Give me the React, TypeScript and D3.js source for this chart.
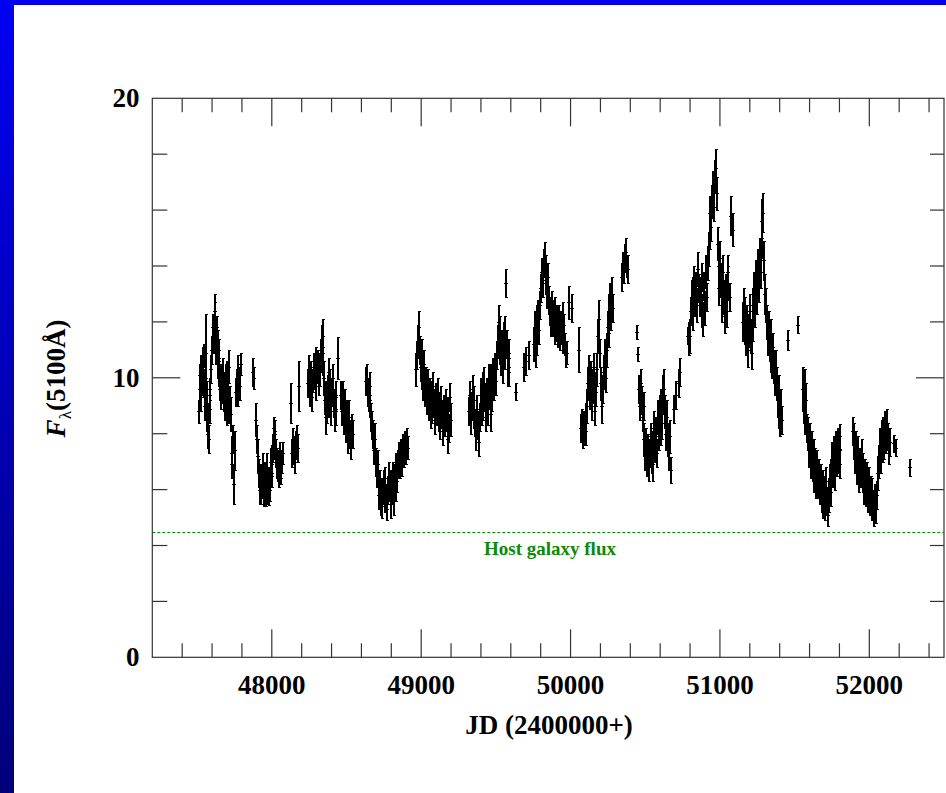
import React, { useEffect } from 'react';
import * as d3 from 'd3';

type Obs = [number, number, number]; // [JD-2400000, flux, error]

const X_DOMAIN: [number, number] = [47200, 52500];
const Y_DOMAIN: [number, number] = [0, 20];
const X_MAJOR = [48000, 49000, 50000, 51000, 52000];
const X_MINOR_STEP = 200;
const Y_MAJOR = [0, 10, 20];
const Y_MINOR_STEP = 2;
const HOST_FLUX = 4.5;
const HOST_LABEL = 'Host galaxy flux';
const X_TITLE = 'JD (2400000+)';

const season1: Obs[] = [
  [47506, 8.8, 0.4], [47510, 9.6, 0.5], [47514, 10.1, 0.4], [47518, 9.3, 0.5], [47522, 10.4, 0.4],
  [47526, 9.9, 0.5], [47530, 10.6, 0.5], [47534, 10.2, 0.4], [47538, 10.8, 0.4], [47542, 9.8, 0.5],
  [47546, 9.0, 0.5], [47550, 9.6, 0.4], [47553, 10.9, 1.4], [47557, 9.4, 0.5], [47561, 8.6, 0.5],
  [47565, 8.0, 0.5], [47569, 8.5, 0.6], [47573, 7.8, 0.5], [47577, 8.9, 0.5], [47581, 9.6, 0.4],
  [47587, 10.3, 0.5], [47592, 11.0, 0.5], [47597, 11.4, 0.4], [47602, 11.8, 0.5], [47607, 11.3, 0.4],
  [47611, 12.2, 0.5], [47615, 12.4, 0.6], [47619, 11.7, 0.4], [47623, 11.0, 0.5], [47627, 11.8, 0.4],
  [47631, 11.2, 0.5], [47635, 10.5, 0.5], [47639, 11.0, 0.4], [47643, 10.2, 0.5], [47648, 9.6, 0.4],
  [47652, 10.0, 0.5], [47656, 9.3, 0.4], [47660, 9.8, 0.5], [47664, 9.5, 0.4], [47668, 10.2, 0.5],
  [47672, 9.2, 0.4], [47676, 9.7, 0.5], [47680, 9.0, 0.5], [47684, 9.9, 0.6], [47688, 9.4, 0.5],
  [47692, 8.8, 0.5], [47696, 10.1, 0.5], [47700, 9.5, 0.4], [47705, 9.0, 0.6], [47710, 10.4, 0.6],
  [47715, 9.2, 0.5], [47720, 8.7, 0.6], [47725, 7.3, 0.6], [47730, 6.9, 0.5], [47735, 7.8, 0.5],
  [47740, 6.2, 0.7], [47745, 7.4, 0.7], [47752, 9.5, 0.5], [47758, 9.8, 0.5], [47764, 10.3, 0.5],
  [47770, 9.4, 0.4], [47776, 10.0, 0.4], [47782, 9.7, 0.5], [47790, 10.5, 0.4], [47867, 10.2, 0.5],
  [47874, 10.0, 0.4],
];

const season2: Obs[] = [
  [47890, 8.5, 0.6], [47896, 7.8, 0.5], [47902, 7.2, 0.6], [47908, 6.6, 0.5], [47913, 6.0, 0.5],
  [47917, 6.5, 0.4], [47921, 5.9, 0.4], [47925, 6.4, 0.5], [47929, 6.1, 0.4], [47933, 6.8, 0.5],
  [47937, 6.2, 0.4], [47941, 5.8, 0.4], [47945, 6.5, 0.5], [47949, 6.0, 0.4], [47953, 5.7, 0.3],
  [47957, 6.3, 0.4], [47961, 6.8, 0.5], [47965, 6.1, 0.4], [47969, 5.9, 0.4], [47973, 5.8, 0.35],
  [47977, 6.4, 0.4], [47981, 6.0, 0.4], [47985, 6.6, 0.5], [47989, 7.0, 0.5], [47993, 6.5, 0.4],
  [47997, 7.1, 0.5], [48001, 7.5, 0.5], [48005, 7.9, 0.5], [48009, 8.2, 0.4], [48013, 7.6, 0.5],
  [48017, 8.0, 0.5], [48021, 7.3, 0.5], [48025, 6.9, 0.5], [48029, 7.1, 0.4], [48033, 6.7, 0.4],
  [48037, 6.9, 0.5], [48042, 6.5, 0.4], [48047, 7.2, 0.5], [48052, 6.8, 0.4], [48058, 6.6, 0.4],
  [48064, 7.0, 0.4], [48070, 7.3, 0.4], [48121, 9.1, 0.7], [48130, 7.3, 0.5], [48136, 7.8, 0.4],
  [48142, 7.4, 0.5], [48148, 7.0, 0.4], [48154, 7.6, 0.5], [48160, 7.9, 0.4], [48166, 7.5, 0.5],
];

const season3: Obs[] = [
  [48175, 9.7, 0.9], [48238, 9.8, 0.5], [48244, 10.3, 0.5], [48250, 9.6, 0.6], [48256, 10.1, 0.5],
  [48262, 9.3, 0.5], [48268, 9.9, 0.4], [48274, 10.4, 0.5], [48280, 10.0, 0.4], [48286, 10.6, 0.5],
  [48292, 9.7, 0.5], [48298, 10.2, 0.4], [48304, 10.5, 0.5], [48310, 9.9, 0.5], [48316, 10.3, 0.6],
  [48322, 10.8, 0.6], [48328, 11.3, 0.6], [48333, 11.5, 0.6], [48338, 10.6, 0.5], [48343, 10.0, 0.6],
  [48348, 9.2, 0.5], [48353, 8.6, 0.6], [48358, 9.4, 0.5], [48363, 8.9, 0.5], [48369, 9.6, 0.5],
  [48374, 10.2, 0.5], [48379, 9.2, 0.6], [48384, 9.8, 0.5], [48390, 8.8, 0.5], [48396, 9.5, 0.5],
  [48402, 10.0, 0.5], [48408, 9.1, 0.5], [48414, 8.6, 0.5], [48420, 9.4, 0.5], [48426, 8.8, 0.5],
  [48436, 10.7, 0.75], [48455, 9.4, 0.5], [48462, 8.8, 0.5], [48469, 9.3, 0.6], [48476, 8.5, 0.5],
  [48483, 9.0, 0.6], [48490, 8.2, 0.5], [48497, 8.7, 0.5], [48504, 7.8, 0.5], [48511, 8.6, 0.6],
  [48518, 8.0, 0.5], [48525, 7.6, 0.5], [48532, 8.3, 0.4], [48540, 8.0, 0.5],
];

const season4: Obs[] = [
  [48624, 9.9, 0.5], [48630, 10.0, 0.5], [48636, 9.5, 0.5], [48642, 9.2, 0.4], [48648, 9.7, 0.5],
  [48654, 9.0, 0.4], [48660, 8.6, 0.5], [48666, 8.3, 0.5], [48672, 8.0, 0.5], [48678, 7.4, 0.5],
  [48684, 7.8, 0.6], [48690, 7.0, 0.5], [48696, 6.6, 0.5], [48702, 6.9, 0.5], [48708, 6.2, 0.5],
  [48713, 5.8, 0.5], [48718, 6.3, 0.4], [48723, 5.6, 0.5], [48728, 6.0, 0.4], [48733, 5.4, 0.4],
  [48738, 5.9, 0.4], [48743, 6.2, 0.5], [48748, 5.7, 0.5], [48753, 6.4, 0.4], [48758, 5.8, 0.4],
  [48763, 5.3, 0.4], [48768, 6.1, 0.4], [48773, 5.9, 0.4], [48778, 6.5, 0.5], [48783, 6.0, 0.4],
  [48788, 5.5, 0.5], [48793, 6.3, 0.4], [48798, 5.9, 0.4], [48803, 6.6, 0.4], [48808, 6.1, 0.5],
  [48813, 5.6, 0.5], [48818, 6.4, 0.5], [48823, 6.0, 0.4], [48828, 6.8, 0.5], [48833, 6.3, 0.4],
  [48838, 6.9, 0.5], [48843, 7.2, 0.5], [48850, 6.8, 0.4], [48857, 7.4, 0.4], [48864, 7.0, 0.5],
  [48871, 7.6, 0.4], [48878, 7.3, 0.5], [48885, 7.7, 0.4], [48892, 7.4, 0.5], [48899, 7.8, 0.4],
  [48906, 7.5, 0.4],
];

const season5: Obs[] = [
  [48960, 10.3, 0.6], [48966, 10.8, 0.5], [48972, 11.3, 0.6], [48978, 11.8, 0.6], [48984, 11.0, 0.5],
  [48990, 10.4, 0.5], [48996, 10.9, 0.5], [49002, 10.1, 0.5], [49008, 9.7, 0.5], [49014, 10.5, 0.5],
  [49020, 9.5, 0.5], [49026, 10.0, 0.4], [49032, 9.2, 0.5], [49038, 9.8, 0.5], [49044, 9.0, 0.5],
  [49050, 9.6, 0.4], [49056, 8.7, 0.5], [49062, 9.4, 0.5], [49068, 8.9, 0.5], [49074, 9.7, 0.5],
  [49080, 9.1, 0.5], [49086, 8.5, 0.5], [49092, 9.3, 0.5], [49098, 8.8, 0.5], [49104, 9.5, 0.5],
  [49110, 8.6, 0.5], [49116, 9.0, 0.5], [49122, 8.3, 0.5], [49128, 9.2, 0.5], [49134, 8.7, 0.5],
  [49140, 8.1, 0.5], [49146, 8.9, 0.5], [49152, 8.4, 0.5], [49158, 9.1, 0.5], [49164, 8.6, 0.5],
  [49170, 7.8, 0.5], [49176, 8.8, 0.5], [49182, 8.2, 0.5], [49188, 9.3, 0.5], [49194, 8.5, 0.6],
];

const season6: Obs[] = [
  [49314, 8.8, 0.5], [49320, 9.4, 0.5], [49326, 8.5, 0.5], [49332, 9.0, 0.5], [49338, 9.6, 0.5],
  [49344, 8.7, 0.5], [49350, 9.2, 0.5], [49356, 8.4, 0.5], [49362, 8.0, 0.6], [49368, 8.9, 0.5],
  [49374, 8.3, 0.5], [49380, 7.7, 0.5], [49386, 8.6, 0.5], [49392, 9.4, 0.6], [49398, 8.8, 0.5],
  [49404, 9.6, 0.6], [49410, 9.0, 0.5], [49416, 9.8, 0.6], [49422, 9.3, 0.5], [49428, 8.6, 0.5],
  [49434, 9.5, 0.5], [49440, 8.9, 0.6], [49446, 10.0, 0.5], [49452, 9.4, 0.5], [49458, 8.7, 0.6],
  [49464, 9.9, 0.6], [49470, 9.3, 0.5], [49476, 10.2, 0.5], [49482, 9.7, 0.5], [49488, 10.4, 0.5],
  [49494, 9.9, 0.5], [49500, 10.8, 0.5], [49506, 11.3, 0.6], [49512, 12.0, 0.6], [49518, 11.0, 0.5],
  [49524, 11.6, 0.6], [49530, 10.6, 0.5], [49536, 11.2, 0.5], [49542, 10.4, 0.6], [49548, 11.5, 0.5],
  [49554, 10.8, 0.5], [49557, 11.7, 0.5], [49560, 13.4, 0.5], [49566, 11.2, 0.5], [49572, 10.3, 0.6],
  [49578, 10.9, 0.5], [49584, 10.2, 0.5], [49630, 9.5, 0.3], [49682, 10.4, 0.5], [49695, 10.6, 0.5],
  [49712, 10.8, 0.5],
];

const season7: Obs[] = [
  [49748, 11.2, 0.6], [49754, 11.8, 0.6], [49760, 11.0, 0.6], [49766, 12.0, 0.6], [49772, 11.4, 0.6],
  [49778, 12.2, 0.6], [49784, 11.7, 0.5], [49790, 12.6, 0.5], [49796, 13.2, 0.5], [49802, 13.8, 0.5],
  [49808, 13.4, 0.5], [49814, 14.1, 0.5], [49820, 14.4, 0.45], [49826, 13.9, 0.5], [49832, 13.5, 0.5],
  [49838, 13.0, 0.5], [49844, 13.6, 0.5], [49850, 12.8, 0.5], [49856, 12.4, 0.5], [49862, 12.0, 0.5],
  [49868, 12.6, 0.5], [49874, 11.9, 0.4], [49880, 12.3, 0.5], [49886, 11.7, 0.5], [49892, 12.4, 0.5],
  [49898, 11.8, 0.5], [49904, 12.2, 0.4], [49910, 11.6, 0.5], [49916, 12.1, 0.5], [49922, 11.5, 0.5],
  [49928, 12.0, 0.4], [49934, 11.7, 0.5], [49940, 12.3, 0.4], [49946, 11.4, 0.5], [49952, 11.9, 0.4],
  [49958, 11.2, 0.4], [49964, 10.8, 0.4], [49970, 10.9, 0.4], [49985, 12.7, 0.6], [50000, 12.5, 0.5],
  [50050, 11.0, 0.8],
];

const season8: Obs[] = [
  [50064, 8.2, 0.5], [50070, 8.5, 0.4], [50076, 7.9, 0.4], [50082, 8.3, 0.5], [50088, 8.0, 0.4],
  [50094, 8.6, 0.5], [50100, 8.1, 0.5], [50106, 9.0, 0.6], [50112, 9.8, 0.6], [50118, 10.2, 0.6],
  [50124, 9.4, 0.5], [50130, 10.0, 0.6], [50136, 9.0, 0.5], [50142, 9.7, 0.6], [50148, 10.4, 0.5],
  [50154, 9.6, 0.6], [50160, 8.8, 0.5], [50166, 9.5, 0.5], [50172, 10.3, 0.6], [50180, 11.5, 0.6],
  [50186, 12.1, 0.7], [50192, 10.9, 0.5], [50198, 9.8, 0.6], [50204, 9.0, 0.6], [50210, 9.6, 0.5],
  [50216, 10.2, 0.6], [50222, 10.8, 0.6], [50228, 10.0, 0.5], [50236, 11.0, 0.6], [50242, 11.8, 0.6],
  [50248, 12.4, 0.6], [50254, 11.6, 0.5], [50260, 12.8, 0.6], [50266, 12.2, 0.5], [50272, 13.0, 0.6],
  [50278, 12.5, 0.5], [50340, 13.6, 0.5], [50346, 14.0, 0.5], [50352, 13.8, 0.4], [50358, 14.3, 0.5],
  [50364, 14.5, 0.5], [50370, 14.0, 0.4], [50376, 13.9, 0.5], [50440, 11.65, 0.25], [50444, 10.85, 0.25],
];

const season9: Obs[] = [
  [50452, 9.6, 0.5], [50458, 9.0, 0.5], [50464, 9.8, 0.5], [50470, 9.2, 0.5], [50476, 8.6, 0.5],
  [50482, 9.0, 0.5], [50488, 7.8, 0.6], [50494, 7.2, 0.5], [50500, 7.7, 0.5], [50506, 7.0, 0.5],
  [50512, 7.5, 0.5], [50518, 6.8, 0.5], [50524, 7.3, 0.5], [50530, 7.9, 0.5], [50536, 7.1, 0.5],
  [50542, 6.9, 0.6], [50548, 7.6, 0.5], [50554, 8.2, 0.6], [50560, 7.5, 0.5], [50566, 8.0, 0.6],
  [50572, 7.3, 0.5], [50578, 8.6, 0.6], [50584, 7.9, 0.5], [50590, 8.8, 0.6], [50596, 8.2, 0.6],
  [50602, 9.0, 0.6], [50608, 8.4, 0.6], [50614, 9.4, 0.7], [50620, 9.6, 0.7], [50626, 8.8, 0.6],
  [50632, 8.0, 0.6], [50638, 8.6, 0.6], [50644, 7.8, 0.6], [50650, 7.3, 0.6], [50656, 7.9, 0.6],
  [50668, 6.7, 0.45], [50686, 8.9, 0.5], [50700, 9.4, 0.5], [50716, 9.8, 0.5], [50728, 10.2, 0.5],
];

const season10: Obs[] = [
  [50778, 11.5, 0.3], [50786, 11.4, 0.6], [50792, 11.5, 0.6], [50798, 12.4, 0.5], [50804, 12.9, 0.6],
  [50810, 12.2, 0.5], [50816, 13.0, 0.6], [50822, 13.5, 0.5], [50828, 12.8, 0.6], [50834, 13.3, 0.5],
  [50840, 12.6, 0.6], [50846, 13.9, 0.6], [50852, 13.2, 0.5], [50858, 12.7, 0.5], [50864, 13.0, 0.6],
  [50870, 12.4, 0.6], [50876, 13.6, 0.5], [50882, 12.1, 0.6], [50888, 13.3, 0.5], [50894, 12.5, 0.6],
  [50900, 13.8, 0.6], [50906, 12.9, 0.5], [50912, 14.1, 0.6], [50918, 14.6, 0.6], [50924, 15.2, 0.6],
  [50930, 15.9, 0.6], [50936, 15.4, 0.5], [50942, 16.3, 0.6], [50948, 16.8, 0.6], [50954, 16.1, 0.5],
  [50960, 17.2, 0.6], [50966, 17.5, 0.7], [50972, 16.6, 0.6], [50978, 14.8, 0.6], [50984, 14.0, 0.6],
  [50990, 13.2, 0.6], [50996, 14.3, 0.6], [51002, 13.5, 0.6], [51008, 12.6, 0.6], [51014, 13.8, 0.6],
  [51020, 12.9, 0.6], [51026, 12.2, 0.6], [51032, 13.1, 0.6], [51038, 12.4, 0.6], [51044, 13.4, 0.6],
  [51050, 13.8, 0.6], [51058, 12.9, 0.5], [51066, 15.8, 0.7], [51078, 15.3, 0.6],
];

const season11: Obs[] = [
  [51146, 12.0, 0.7], [51152, 12.6, 0.6], [51158, 11.8, 0.6], [51164, 12.3, 0.6], [51170, 11.4, 0.6],
  [51176, 12.0, 0.6], [51182, 11.0, 0.6], [51188, 11.7, 0.6], [51194, 12.4, 0.6], [51200, 11.5, 0.6],
  [51206, 10.9, 0.6], [51212, 11.9, 0.6], [51218, 12.6, 0.6], [51224, 13.2, 0.6], [51230, 12.4, 0.6],
  [51236, 13.6, 0.6], [51242, 12.9, 0.6], [51248, 14.0, 0.6], [51254, 13.3, 0.6], [51260, 14.4, 0.6],
  [51266, 13.8, 0.6], [51272, 15.0, 0.7], [51278, 15.6, 0.8], [51284, 15.9, 0.7], [51290, 14.2, 0.7],
  [51296, 13.0, 0.7], [51302, 12.6, 0.6], [51308, 12.0, 0.6], [51314, 11.4, 0.6], [51320, 11.9, 0.5],
  [51326, 11.2, 0.6], [51332, 10.8, 0.6], [51338, 11.5, 0.6], [51344, 10.6, 0.6], [51350, 11.1, 0.5],
  [51356, 10.4, 0.6], [51362, 10.0, 0.6], [51368, 10.4, 0.6], [51374, 9.8, 0.6], [51380, 9.2, 0.6],
  [51386, 9.6, 0.5], [51392, 8.8, 0.6], [51398, 8.4, 0.5], [51404, 9.0, 0.6], [51410, 8.5, 0.5],
  [51452, 11.35, 0.35], [51518, 11.9, 0.3],
];

const season12: Obs[] = [
  [51548, 9.6, 0.8], [51554, 9.0, 0.6], [51560, 9.7, 0.6], [51566, 8.6, 0.6], [51572, 9.2, 0.6],
  [51578, 8.2, 0.5], [51584, 8.0, 0.6], [51590, 7.4, 0.6], [51596, 7.8, 0.6], [51602, 7.0, 0.6],
  [51608, 7.5, 0.6], [51614, 6.8, 0.5], [51620, 7.2, 0.6], [51626, 6.5, 0.6], [51632, 7.0, 0.5],
  [51638, 6.3, 0.6], [51644, 6.8, 0.6], [51650, 6.2, 0.5], [51656, 6.6, 0.5], [51662, 6.0, 0.5],
  [51668, 6.4, 0.5], [51674, 5.7, 0.5], [51680, 6.2, 0.5], [51686, 5.5, 0.5], [51692, 6.0, 0.5],
  [51698, 5.4, 0.5], [51704, 6.3, 0.5], [51710, 5.6, 0.5], [51716, 5.1, 0.4], [51722, 5.8, 0.6],
  [51728, 6.4, 0.5], [51734, 5.9, 0.5], [51740, 6.6, 0.5], [51746, 7.1, 0.6], [51752, 6.7, 0.6],
  [51758, 7.3, 0.6], [51764, 6.5, 0.5], [51770, 7.5, 0.6], [51776, 7.0, 0.5], [51782, 7.7, 0.5],
  [51788, 7.2, 0.6], [51794, 6.9, 0.5], [51800, 7.9, 0.45],
];

const season13: Obs[] = [
  [51882, 8.1, 0.5], [51888, 7.6, 0.5], [51894, 8.0, 0.4], [51900, 7.2, 0.6], [51906, 7.6, 0.5],
  [51912, 6.8, 0.6], [51918, 7.4, 0.5], [51924, 6.5, 0.6], [51930, 7.0, 0.5], [51936, 6.6, 0.5],
  [51942, 7.2, 0.6], [51948, 6.4, 0.5], [51954, 6.8, 0.5], [51960, 6.1, 0.6], [51966, 6.6, 0.5],
  [51972, 5.9, 0.5], [51978, 6.4, 0.6], [51984, 5.7, 0.5], [51990, 6.2, 0.6], [51996, 5.6, 0.5],
  [52002, 6.0, 0.5], [52008, 5.4, 0.5], [52014, 5.9, 0.5], [52020, 5.5, 0.5], [52026, 5.2, 0.5],
  [52032, 5.7, 0.5], [52038, 5.3, 0.5], [52044, 5.8, 0.5], [52052, 6.6, 0.6], [52058, 7.0, 0.6],
  [52064, 7.6, 0.6], [52070, 7.2, 0.6], [52076, 7.9, 0.6], [52082, 7.5, 0.5], [52088, 8.1, 0.5],
  [52094, 7.7, 0.6], [52100, 8.3, 0.5], [52106, 7.8, 0.5], [52112, 8.4, 0.5], [52118, 7.9, 0.5],
  [52124, 7.4, 0.5], [52130, 7.7, 0.5], [52156, 7.65, 0.3], [52172, 7.5, 0.3], [52268, 6.8, 0.3],
];

const seasons: Obs[][] = [
  season1, season2, season3, season4, season5, season6, season7,
  season8, season9, season10, season11, season12, season13,
];

const W = 946;
const H = 793;
const PLOT = { left: 152.3, right: 944, top: 98.3, bottom: 657.3 };
const AXIS_COLOR = '#333';
const FONT = '"Liberation Serif", "Times New Roman", serif';

export default function App() {
  useEffect(() => {
    document.body.style.margin = '0';
  }, []);

  const x = d3.scaleLinear().domain(X_DOMAIN).range([PLOT.left, PLOT.right]);
  const y = d3.scaleLinear().domain(Y_DOMAIN).range([PLOT.bottom, PLOT.top]);

  const xMinor = d3.range(X_DOMAIN[0] + X_MINOR_STEP, X_DOMAIN[1], X_MINOR_STEP).filter((v) => !X_MAJOR.includes(v));
  const yMinor = d3.range(Y_DOMAIN[0] + Y_MINOR_STEP, Y_DOMAIN[1], Y_MINOR_STEP).filter((v) => !Y_MAJOR.includes(v));
  const yMajorInner = Y_MAJOR.filter((v) => v > Y_DOMAIN[0] && v < Y_DOMAIN[1]);

  const snap = (v: number) => Math.round(v) + 0.5;
  const obs = seasons.flat();

  const MAJ = 28;
  const MIN = 14;

  return (
    <svg width={W} height={H} style={{ position: 'absolute', left: 0, top: 0, background: '#fff' }}>
      <defs>
        <linearGradient id="leftBar" x1="0" y1="0" x2="0" y2="1">
          <stop offset="0" stopColor="#0000f4" />
          <stop offset="1" stopColor="#00007a" />
        </linearGradient>
      </defs>
      <rect x={0} y={0} width={W} height={H} fill="#fff" />
      <rect x={0} y={0} width={W} height={5} fill="#0000ee" />
      <rect x={0} y={0} width={14} height={H} fill="url(#leftBar)" />

      <g stroke={AXIS_COLOR} strokeWidth={1.2} fill="none">
        <rect x={PLOT.left} y={PLOT.top} width={PLOT.right - PLOT.left} height={PLOT.bottom - PLOT.top} />
        {X_MAJOR.map((v) => (
          <g key={'xM' + v}>
            <line x1={x(v)} x2={x(v)} y1={PLOT.bottom} y2={PLOT.bottom - MAJ} />
            <line x1={x(v)} x2={x(v)} y1={PLOT.top} y2={PLOT.top + MAJ} />
          </g>
        ))}
        {xMinor.map((v) => (
          <g key={'xm' + v}>
            <line x1={x(v)} x2={x(v)} y1={PLOT.bottom} y2={PLOT.bottom - MIN} />
            <line x1={x(v)} x2={x(v)} y1={PLOT.top} y2={PLOT.top + MIN} />
          </g>
        ))}
        {yMajorInner.map((v) => (
          <g key={'yM' + v}>
            <line x1={PLOT.left} x2={PLOT.left + MAJ} y1={y(v)} y2={y(v)} />
            <line x1={PLOT.right} x2={PLOT.right - MAJ} y1={y(v)} y2={y(v)} />
          </g>
        ))}
        {yMinor.map((v) => (
          <g key={'ym' + v}>
            <line x1={PLOT.left} x2={PLOT.left + MIN + 1} y1={y(v)} y2={y(v)} />
            <line x1={PLOT.right} x2={PLOT.right - MIN} y1={y(v)} y2={y(v)} />
          </g>
        ))}
      </g>

      <g fontFamily={FONT} fontWeight="bold" fontSize={27} fill="#000">
        {X_MAJOR.map((v) => (
          <text key={'xl' + v} x={x(v)} y={PLOT.bottom + 36.7} textAnchor="middle">
            {v}
          </text>
        ))}
        {Y_MAJOR.map((v) => (
          <text key={'yl' + v} x={139.5} y={y(v) + 9} textAnchor="end">
            {v}
          </text>
        ))}
        <text x={549} y={734} textAnchor="middle">{X_TITLE}</text>
        <text transform="translate(65,378.5) rotate(-90)" textAnchor="middle">
          <tspan fontStyle="italic">F</tspan>
          <tspan fontSize={17} fontWeight="normal" dy={6}>λ</tspan>
          <tspan dy={-6}>(5100Å)</tspan>
        </text>
      </g>

      <line
        x1={PLOT.left}
        x2={PLOT.right}
        y1={snap(y(HOST_FLUX))}
        y2={snap(y(HOST_FLUX))}
        stroke="#008a00"
        strokeWidth={1}
        strokeDasharray="3,2"
      />
      <text
        x={550}
        y={y(HOST_FLUX) + 23.5}
        textAnchor="middle"
        fontFamily={FONT}
        fontWeight="bold"
        fontSize={19}
        fill="#0a8a0a"
      >
        {HOST_LABEL}
      </text>

      <g stroke="#000" shapeRendering="crispEdges">
        {obs.map(([jd, f, e], i) => {
          const cx = snap(x(jd));
          const y1 = y(f + e);
          const y2 = y(f - e);
          return (
            <g key={i}>
              <line x1={cx} x2={cx} y1={y1} y2={y2} strokeWidth={2} />
              <line x1={cx - 1} x2={cx + 2.5} y1={snap(y1)} y2={snap(y1)} strokeWidth={1} />
              <line x1={cx - 1} x2={cx + 2.5} y1={snap(y2)} y2={snap(y2)} strokeWidth={1} />
              <line x1={cx - 2} x2={cx + 2} y1={snap(y(f))} y2={snap(y(f))} strokeWidth={1} />
            </g>
          );
        })}
      </g>
    </svg>
  );
}
